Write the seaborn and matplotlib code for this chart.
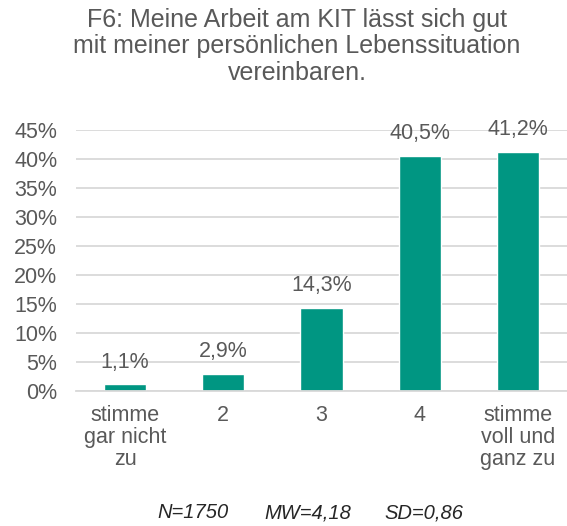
import matplotlib
matplotlib.use("Agg")
import matplotlib.pyplot as plt
import seaborn as sns
import pandas as pd

categories = ["stimme\ngar nicht\nzu", "2", "3", "4", "stimme\nvoll und\nganz zu"]
values = [1.1, 2.9, 14.3, 40.5, 41.2]
value_labels = ["1,1%", "2,9%", "14,3%", "40,5%", "41,2%"]
yticks = [0, 5, 10, 15, 20, 25, 30, 35, 40, 45]
ytick_labels = ["0%", "5%", "10%", "15%", "20%", "25%", "30%", "35%", "40%", "45%"]
title = "F6: Meine Arbeit am KIT lässt sich gut\nmit meiner persönlichen Lebenssituation\nvereinbaren."
footnotes = ["N=1750", "MW=4,18", "SD=0,86"]

sns.set_theme(style="white")
plt.rcParams["font.family"] = ["Liberation Sans", "DejaVu Sans"]

TEXT = "#595959"
GREEN = "#009682"
GRID = "#d9d9d9"
FS = 15.5

df = pd.DataFrame({"cat": categories, "val": values})

fig = plt.figure(figsize=(5.67, 5.26), dpi=100)
ax = fig.add_axes([0.134, 0.257, 0.866, 0.496])
sns.barplot(data=df, x="cat", y="val", color=GREEN, width=0.43, ax=ax, saturation=1)

ax.set_ylim(0, 45)
ax.set_xlim(-0.5, 4.5)
ax.set_yticks(yticks)
ax.set_yticklabels(ytick_labels, color=TEXT, fontsize=FS)
ax.yaxis.grid(True, color=GRID, linewidth=1.3)
ax.set_axisbelow(True)
ax.tick_params(axis="y", length=0, pad=13.5)
ax.set_xticks(range(len(categories)))
ax.set_xticklabels(categories, color=TEXT, fontsize=FS, linespacing=1.07)
ax.tick_params(axis="x", which="major", length=0, pad=10)
ax.set_xticks([i - 0.5 for i in range(len(categories) + 1)], minor=True)
ax.tick_params(axis="x", which="minor", length=6, color=GRID, width=1.3)
ax.set_xlabel("")
ax.set_ylabel("")
for s in ["top", "right", "left"]:
    ax.spines[s].set_visible(False)
ax.spines["bottom"].set_color(GRID)
ax.spines["bottom"].set_linewidth(1.3)

for i, (v, lab) in enumerate(zip(values, value_labels)):
    ax.annotate(lab, (i, v), xytext=(0, 8.5), textcoords="offset points",
                ha="center", va="bottom", color=TEXT, fontsize=FS)

fig.text(0.524, 0.985, title, ha="center", va="top", color=TEXT, fontsize=18, linespacing=1.13)
for xc, t in zip([0.34, 0.543, 0.748], footnotes):
    fig.text(xc, 0.025, t, ha="center", va="center", color="#262626", fontsize=14.5, style="italic")

fig.savefig("out.png", dpi=100)
